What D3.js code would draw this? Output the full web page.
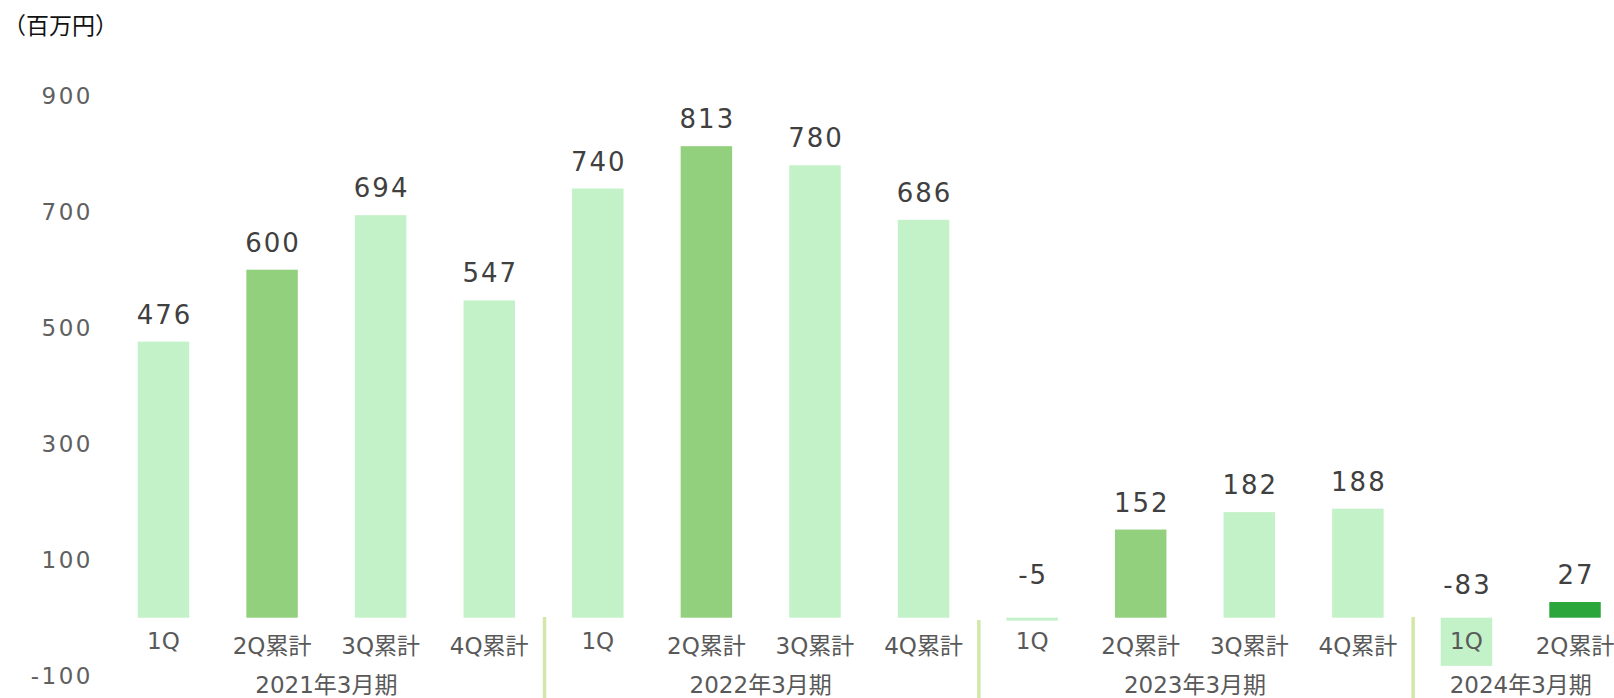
<!DOCTYPE html>
<html>
<head>
<meta charset="utf-8">
<script src="https://cdn.jsdelivr.net/npm/d3@7"></script>
<style>
  html, body { margin: 0; padding: 0; background: #ffffff; }
  svg { display: block; }
</style>
</head>
<body>
<svg id="chart" width="1614" height="698"></svg>
<script>
// ---- data ----
const quarters = ["1Q", "2Q累計", "3Q累計", "4Q累計", "1Q", "2Q累計", "3Q累計", "4Q累計", "1Q", "2Q累計", "3Q累計", "4Q累計", "1Q", "2Q累計"];
const fiscalYears = ["2021年3月期", "2022年3月期", "2023年3月期", "2024年3月期"];
const groupSizes = [4, 4, 4, 2];
const values = [476, 600, 694, 547, 740, 813, 780, 686, -5, 152, 182, 188, -83, 27];
const barKinds = ["q", "h", "q", "q", "q", "h", "q", "q", "q", "h", "q", "q", "q", "c"];
const yTicks = [-100, 100, 300, 500, 700, 900];
const unitLabel = "（百万円）";

// ---- styles ----
const colors = { q: "#c3f1c8", h: "#93d07d", c: "#2aa63a" };
const sepColor = "#d3e7a9";
const latin = "'DejaVu Sans', 'Noto Sans CJK JP', sans-serif";

const svg = d3.select("#chart");
const keys = quarters.map((q, i) => i);

const x = d3.scaleBand()
  .domain(keys)
  .range([109.2, 109.2 + 14 * 108.58])
  .paddingInner(0.526)
  .paddingOuter(0.263);

const y = d3.scaleLinear().domain([-100, 900]).range([675.7, 95.7]);

// unit label
svg.append("text")
  .attr("x", 3).attr("y", 34)
  .attr("font-family", "'Noto Sans CJK JP', sans-serif")
  .attr("font-size", 23)
  .attr("fill", "#111111")
  .text(unitLabel);

// y axis (labels only)
const yAxis = d3.axisLeft(y).tickValues(yTicks).tickSize(0).tickPadding(0).tickFormat(d => String(d));
const gy = svg.append("g").attr("transform", "translate(93,0)").call(yAxis);
gy.select(".domain").remove();
gy.selectAll("text")
  .attr("font-family", latin)
  .attr("font-size", 23)
  .attr("letter-spacing", "2.5px")
  .attr("fill", "#606060")
  .attr("dy", "0.36em");

// bars
svg.append("g").selectAll("rect")
  .data(values)
  .join("rect")
  .attr("x", (d, i) => x(i))
  .attr("width", x.bandwidth())
  .attr("y", d => y(Math.max(0, d)))
  .attr("height", d => Math.abs(y(d) - y(0)))
  .attr("fill", (d, i) => colors[barKinds[i]]);

// value labels
svg.append("g").selectAll("text")
  .data(values)
  .join("text")
  .attr("x", (d, i) => x(i) + x.bandwidth() / 2 + 1)
  .attr("y", d => d >= 0 ? y(d) - 18 : y(0) - (Math.abs(d) < 20 ? 34 : 24))
  .attr("text-anchor", "middle")
  .attr("font-family", latin)
  .attr("font-size", 26)
  .attr("letter-spacing", "2px")
  .attr("fill", "#404040")
  .text(d => d);

// x axis: quarter labels
const xAxis = d3.axisBottom(x).tickSize(0).tickPadding(0).tickFormat(i => quarters[i]);
const gx = svg.append("g").attr("transform", `translate(0,${y(0)})`).call(xAxis);
gx.select(".domain").remove();
gx.selectAll("text")
  .attr("font-family", latin)
  .attr("font-size", 23)
  .attr("fill", "#595959")
  .attr("dy", null)
  .attr("y", i => quarters[i] === "1Q" ? 31 : 36);

// group labels and separators
let start = 0;
const groups = groupSizes.map((n, g) => {
  const o = { label: fiscalYears[g], first: start, last: start + n - 1 };
  start += n;
  return o;
});

svg.append("g").selectAll("text")
  .data(groups)
  .join("text")
  .attr("x", g => (x(g.first) + x(g.last) + x.bandwidth()) / 2)
  .attr("y", 693)
  .attr("text-anchor", "middle")
  .attr("font-family", latin)
  .attr("font-size", 23)
  .attr("fill", "#595959")
  .text(g => g.label);

const step = x.step();
svg.append("g").selectAll("line")
  .data(groups.slice(1))
  .join("line")
  .attr("x1", g => x(g.first) - (step - x.bandwidth()) / 2 + 1)
  .attr("x2", g => x(g.first) - (step - x.bandwidth()) / 2 + 1)
  .attr("y1", (g, k) => k === 1 ? 620 : 617)
  .attr("y2", 698)
  .attr("stroke", sepColor)
  .attr("stroke-width", 3.5);
</script>
</body>
</html>
